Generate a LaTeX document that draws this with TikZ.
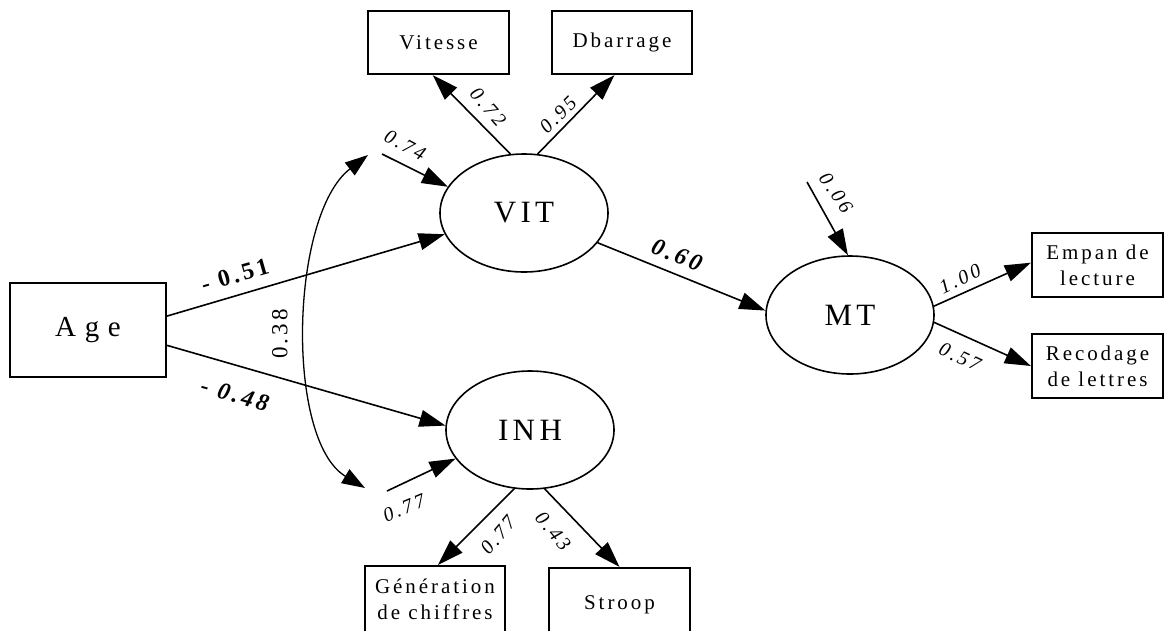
\documentclass[tikz,border=0pt]{standalone}
\usepackage{fontspec}
\setmainfont{Liberation Serif}
\newfontfamily\spaced[LetterSpace=14]{Liberation Serif}
\newfontfamily\wide[LetterSpace=30]{Liberation Serif}
\usepackage{tikz}
\usetikzlibrary{arrows.meta, positioning, shapes.geometric}

\begin{document}
\begin{tikzpicture}[
        x=1pt, y=-1pt,
        measure/.style={rectangle, draw, line width=2.2pt, inner sep=0pt, align=center, font=\fontsize{21}{26}\selectfont\spaced},
        latent/.style={ellipse, draw, line width=1.6pt, inner sep=0pt, minimum width=168pt, minimum height=118pt, font=\fontsize{31}{34}\selectfont\spaced},
        effect/.style={-{Triangle[length=26pt, width=17pt]}, line width=1.6pt},
        corr/.style={{Triangle[length=23pt, width=16pt]}-{Triangle[length=23pt, width=16pt]}, line width=1.3pt},
        weight/.style={font=\fontsize{20}{22}\selectfont\spaced\itshape, inner sep=1pt},
        coef/.style={font=\fontsize{24}{26}\selectfont\spaced\bfseries, inner sep=1pt}
    ]
        \useasboundingbox (0,0) rectangle (1165,630);

        % --- Left: Age ---
        \node[measure, minimum width=156pt, minimum height=94pt, font=\fontsize{29}{32}\selectfont\wide] (Age) at (88,330) {Age};

        % --- Middle: latent factors ---
        \node[latent] (VIT) at (524,213) {VIT};
        \node[latent] (INH) at (530,430) {INH};
        \node[latent] (MT) at (850,315) {MT};

        % --- Indicators ---
        \node[measure, minimum width=141pt, minimum height=63pt] (Vit) at (438.5,42.5) {Vitesse};
        \node[measure, minimum width=140pt, minimum height=63pt] (Dbar) at (622,42.5) {Dbarrage};
        \node[measure, minimum width=131pt, minimum height=64pt] (Empan) at (1097.5,265) {Empan de\\lecture};
        \node[measure, minimum width=131pt, minimum height=64pt] (Recod) at (1097.5,366) {Recodage\\de lettres};
        \node[measure, minimum width=140pt, minimum height=66pt] (Gen) at (435,599) {Génération\\de chiffres};
        \node[measure, minimum width=141pt, minimum height=74pt] (Stroop) at (619.5,605) {Stroop};

        % free ends (residuals, correlation)
        \coordinate (eVIT) at (382,154);
        \coordinate (eINH) at (387,491);
        \coordinate (eMT) at (807,182);
        \coordinate (cTop) at (368,155);
        \coordinate (cBot) at (365,488);

        % --- Paths ---
        \draw[effect] (Age.10) -- (VIT.195);
        \draw[effect] (Age.-11) -- (INH.177);
        \draw[effect] (VIT.-22) -- (MT.177);
        \draw[effect] (VIT.103) -- (Vit.260);
        \draw[effect] (VIT.77) -- (Dbar.257);
        \draw[effect] (INH.-105) -- (Gen.85);
        \draw[effect] (INH.-76) -- (Stroop.north);
        \draw[effect] (MT.6) -- (Empan.178);
        \draw[effect] (MT.-5) -- (Recod.west);

        % residuals
        \draw[effect] (eVIT) -- (VIT.161);
        \draw[effect] (eINH) -- (INH.201);
        \draw[effect] (eMT) -- (MT.92);

        % correlation
        \draw[corr] (cTop) .. controls (290,215) and (285,440) .. (cBot);

        % --- Labels ---
        \node[coef, rotate=16] (lAV) at (235,275) {- 0.51};
        \node[coef, rotate=-16] (lAI) at (235,395) {\itshape - 0.48};
        \node[coef, rotate=-22] (lVM) at (677,255) {\itshape 0.60};
        \node[weight, font=\fontsize{23}{25}\selectfont\spaced, rotate=90] (lCor) at (280,334) {0.38};
        \node[weight, rotate=-49] (lVit) at (488,107) {0.72};
        \node[weight, rotate=45] (lDbar) at (558,115) {0.95};
        \node[weight, rotate=-28] (lrV) at (405,145) {0.74};
        \node[weight, rotate=22] (lrI) at (404,508) {0.77};
        \node[weight, rotate=-55] (lrM) at (836,193) {0.06};
        \node[weight, rotate=25] (lEmp) at (960,279) {1.00};
        \node[weight, rotate=-25] (lRec) at (960,357) {0.57};
        \node[weight, rotate=50] (lGen) at (498,535) {0.77};
        \node[weight, rotate=-50] (lStr) at (553,531) {0.43};

    \end{tikzpicture}
\end{document}
